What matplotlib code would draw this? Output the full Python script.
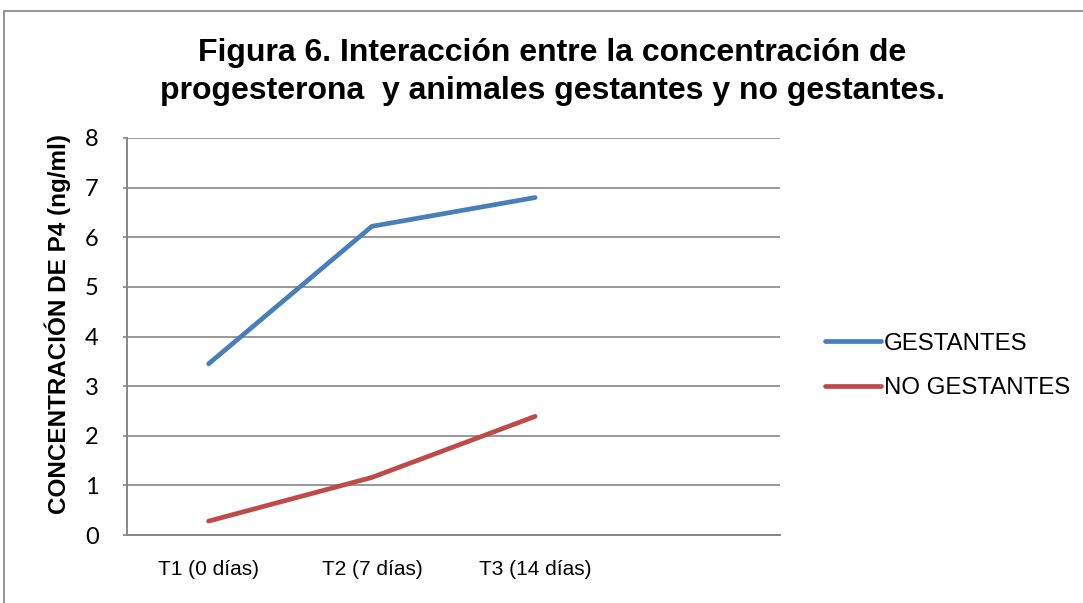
import matplotlib
matplotlib.use("Agg")
import matplotlib.pyplot as plt
from matplotlib.patches import Rectangle

categories = ["T1 (0 días)", "T2 (7 días)", "T3 (14 días)", ""]
gestantes = [3.45, 6.22, 6.80]
no_gestantes = [0.28, 1.16, 2.39]
yticks = [0, 1, 2, 3, 4, 5, 6, 7, 8]
series_names = ["GESTANTES", "NO GESTANTES"]
colors = ["#4A7EBB", "#BE4B48"]

W, H = 1083, 603
fig = plt.figure(figsize=(W / 100, H / 100), dpi=100)
fig.patch.set_facecolor("white")

# outer chart border
fig.patches.append(Rectangle((4 / W, -0.05), 1.2, 1 - 11.5 / H + 0.05,
                             transform=fig.transFigure, fill=False,
                             edgecolor="#8C8C8C", linewidth=1.3))

ax = fig.add_axes([127 / W, 1 - 535 / H, (780 - 127) / W, (535 - 138) / H])
x = list(range(len(categories)))
for vals, name, c in zip([gestantes, no_gestantes], series_names, colors):
    ax.plot(x[:len(vals)], vals, color=c, lw=3.4, solid_capstyle="round",
            solid_joinstyle="round", label=name)

ax.set_xlim(-0.5, len(categories) - 0.5)
ax.set_ylim(0, 8)
ax.set_yticks(yticks)
ax.set_yticklabels([str(v) for v in yticks], family="Lato", fontsize=17)
ax.set_xticks(x)
ax.set_xticklabels(categories, family="Liberation Sans", fontsize=15)
ax.tick_params(axis="x", length=0, pad=18)
ax.tick_params(axis="y", length=3, width=1.2, color="#868686", pad=17.5)
ax.grid(axis="y", color="#868686", lw=1.2)
ax.set_axisbelow(True)
for s in ["top", "right"]:
    ax.spines[s].set_visible(False)
for s in ["left", "bottom"]:
    ax.spines[s].set_color("#868686")
    ax.spines[s].set_linewidth(1.4)

ax.set_ylabel("CONCENTRACIÓN DE P4 (ng/ml)", family="Liberation Sans",
              fontweight="bold", fontsize=17.5)
ax.yaxis.set_label_coords(-69 / (780 - 127), (535 - 324) / 397)
ax.yaxis.label.set_verticalalignment("center")

fig.text(552 / W, 1 - 72 / H,
         "Figura 6. Interacción entre la concentración de\nprogesterona  y animales gestantes y no gestantes.",
         ha="center", va="center", family="Liberation Sans", fontweight="bold",
         fontsize=23, linespacing=1.35)

leg = ax.legend(loc="center left", bbox_to_anchor=((815 - 127) / 653, (535 - 366) / 397),
                frameon=False, borderaxespad=0,
                prop={"family": "Liberation Sans", "size": 17.3},
                handlelength=2.35, handletextpad=0.12, labelspacing=0.95)

fig.savefig("out.png", dpi=100, facecolor="white")
